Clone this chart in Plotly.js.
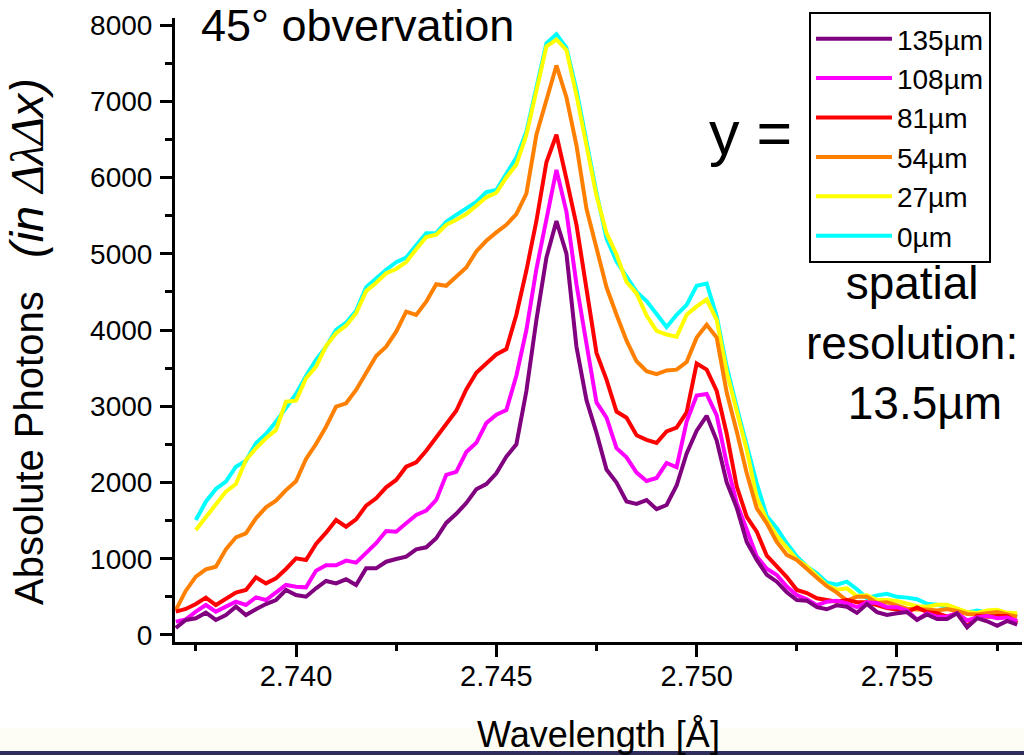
<!DOCTYPE html>
<html>
<head>
<meta charset="utf-8">
<script src="https://cdn.plot.ly/plotly-3.0.1.min.js"></script>
<style>
  html, body { margin: 0; padding: 0; background: #ffffff; }
  #chart { width: 1024px; height: 755px; }
</style>
</head>
<body>
<div id="chart"></div>
<script>
// Wavelength grid [Å]
const wavelength = [
  2.73700, 2.73725, 2.73750, 2.73775, 2.73800, 2.73825, 2.73850, 2.73875, 2.73900, 2.73925,
  2.73950, 2.73975, 2.74000, 2.74025, 2.74050, 2.74075, 2.74100, 2.74125, 2.74150, 2.74175,
  2.74200, 2.74225, 2.74250, 2.74275, 2.74300, 2.74325, 2.74350, 2.74375, 2.74400, 2.74425,
  2.74450, 2.74475, 2.74500, 2.74525, 2.74550, 2.74575, 2.74600, 2.74625, 2.74650, 2.74675,
  2.74700, 2.74725, 2.74750, 2.74775, 2.74800, 2.74825, 2.74850, 2.74875, 2.74900, 2.74925,
  2.74950, 2.74975, 2.75000, 2.75025, 2.75050, 2.75075, 2.75100, 2.75125, 2.75150, 2.75175,
  2.75200, 2.75225, 2.75250, 2.75275, 2.75300, 2.75325, 2.75350, 2.75375, 2.75400, 2.75425,
  2.75450, 2.75475, 2.75500, 2.75525, 2.75550, 2.75575, 2.75600, 2.75625, 2.75650, 2.75675,
  2.75700, 2.75725, 2.75750, 2.75775, 2.75800
];

// Absolute photons per series (y position)
const y135 = [
  92,197,219,293,197,262,371,262,337,406,
  459,590,524,502,612,708,677,730,655,874,
  874,961,996,1027,1124,1150,1268,1470,1590,1730,
  1910,1980,2120,2340,2500,3200,4130,4950,5430,5000,
  3780,3080,2650,2170,2000,1750,1720,1770,1650,1705,
  1960,2380,2680,2875,2550,2000,1670,1220,984,790,
  699,560,459,450,365,337,390,371,290,407,
  300,262,284,300,197,270,210,210,284,100,
  220,180,120,185,135
];
const y108 = [
  175,205,306,393,306,371,437,393,494,459,
  555,656,634,625,843,914,914,975,948,1084,
  1203,1364,1355,1465,1574,1630,1771,2100,2140,2400,
  2520,2780,2890,2950,3400,4000,4800,5450,6100,5550,
  4600,3820,3050,2850,2450,2330,2130,2020,2060,2256,
  2200,2800,3140,3160,2880,2250,1730,1380,1030,870,
  787,634,525,468,390,437,448,415,365,430,
  420,365,365,320,200,284,240,240,284,190,
  230,250,220,230,185
];
const y81 = [
  306,341,406,490,393,481,555,590,756,677,
  743,866,1006,984,1193,1342,1508,1420,1517,1696,
  1793,1937,2033,2207,2265,2417,2593,2750,2940,3220,
  3440,3560,3680,3750,4200,4780,5430,6200,6560,5980,
  5380,4540,3700,3350,2930,2850,2620,2560,2520,2670,
  2720,2920,3560,3480,3200,2640,1950,1550,1355,1040,
  896,760,590,550,481,459,437,459,430,430,
  390,355,335,300,360,300,284,240,284,109,
  250,240,250,250,160
];
const y54 = [
  328,581,765,861,896,1124,1281,1334,1530,1674,
  1762,1900,2015,2308,2505,2732,2994,3039,3213,3440,
  3659,3781,3978,4240,4197,4371,4600,4580,4700,4820,
  5030,5170,5280,5380,5520,5790,6560,7020,7470,7050,
  6420,5590,5060,4560,4200,3860,3590,3460,3420,3470,
  3480,3580,3900,4070,3900,3180,2670,2120,1660,1465,
  1220,1050,984,860,750,640,555,450,502,500,
  420,430,390,345,335,335,320,340,315,275,
  270,290,300,270,240
];
const y27 = [
  null,null,1377,1552,1727,1880,1980,2295,2449,2580,
  2689,3060,3073,3367,3519,3790,3957,4057,4219,4510,
  4620,4744,4800,4890,5060,5220,5250,5380,5445,5520,
  5630,5740,5800,6000,6170,6560,7140,7720,7810,7670,
  7080,6410,5760,5270,4990,4630,4480,4190,3990,3940,
  3912,4200,4310,4400,4133,3450,2920,2426,1800,1508,
  1300,1137,990,900,780,650,595,612,510,520,
  459,459,445,405,378,371,395,395,345,300,
  290,320,330,290,284
];
const y0 = [
  null,null,1508,1748,1915,2011,2207,2286,2514,2636,
  2797,2973,3161,3397,3607,3781,4000,4096,4253,4560,
  4680,4790,4890,4950,5110,5270,5270,5420,5510,5590,
  5680,5810,5836,6050,6260,6600,7170,7760,7880,7700,
  7150,6480,5800,5200,4900,4700,4500,4380,4220,4040,
  4200,4330,4580,4610,4180,3520,2990,2480,1989,1560,
  1400,1203,1030,900,810,690,660,699,600,481,
  520,540,500,490,470,410,398,365,335,295,
  320,300,268,280,250
];

const seriesNames = ['0µm', '27µm', '54µm', '81µm', '108µm', '135µm'];
const seriesValues = [y0, y27, y54, y81, y108, y135];
const seriesColors = ['#00ffff', '#ffff00', '#ff8000', '#ff0000', '#ff00ff', '#800080'];

const xTickVals = [2.740, 2.745, 2.750, 2.755];
const xTickText = ['2.740', '2.745', '2.750', '2.755'];
const yTickVals = [0, 1000, 2000, 3000, 4000, 5000, 6000, 7000, 8000];
const yTickText = ['0', '1000', '2000', '3000', '4000', '5000', '6000', '7000', '8000'];

const FONT = 'Arial, "Liberation Sans", sans-serif';
const NB = '\u00a0';

const traces = seriesNames.map((name, k) => ({
  type: 'scatter',
  mode: 'lines',
  name: name,
  x: wavelength,
  y: seriesValues[k],
  line: { color: seriesColors[k], width: 4 },
  connectgaps: false
}));

const yTitleText = 'Absolute Photons' + NB + NB + NB +
  '<span style="font-size:47px"><i>(in <span style="font-family:Liberation Serif">ΔλΔ</span>x)</i></span>';

const layout = {
  width: 1024,
  height: 755,
  paper_bgcolor: '#ffffff',
  plot_bgcolor: '#ffffff',
  margin: { l: 175, r: 2, t: 18, b: 113, pad: 0 },
  font: { family: FONT, color: '#000000' },
  showlegend: true,
  title: {
    text: '45° obvervation',
    font: { family: FONT, size: 45, color: '#000000' },
    xref: 'paper', x: 0.0307, xanchor: 'left',
    yref: 'container', y: 0.987, yanchor: 'top'
  },
  xaxis: {
    range: [2.73698, 2.75812],
    tickmode: 'array',
    tickvals: xTickVals,
    ticktext: xTickText,
    ticks: 'outside', ticklen: 12, tickwidth: 3, tickcolor: '#000000',
    showline: true, linewidth: 3, linecolor: '#000000',
    showgrid: false, zeroline: false, mirror: false,
    tickfont: { family: FONT, size: 29, color: '#000000' },
    ticklabelstandoff: -6,
    minor: { dtick: 0.0025, tick0: 2.740, ticks: 'outside', ticklen: 6, tickwidth: 3, tickcolor: '#000000', showgrid: false },
    title: { text: 'Wavelength [Å]', font: { family: FONT, size: 36, color: '#000000' }, standoff: 32 }
  },
  yaxis: {
    range: [-92, 8092],
    tickmode: 'array',
    tickvals: yTickVals,
    ticktext: yTickText,
    ticks: 'outside', ticklen: 12, tickwidth: 3, tickcolor: '#000000',
    showline: true, linewidth: 3, linecolor: '#000000',
    showgrid: false, zeroline: false, mirror: false,
    tickfont: { family: FONT, size: 28, color: '#000000' },
    ticklabelstandoff: 2,
    minor: { dtick: 500, tick0: 0, ticks: 'outside', ticklen: 7, tickwidth: 3, tickcolor: '#000000', showgrid: false }
  },
  legend: {
    x: 0.7485, y: 1.0096, xanchor: 'left', yanchor: 'top',
    xref: 'paper', yref: 'paper',
    bgcolor: '#ffffff', bordercolor: '#000000', borderwidth: 2,
    font: { family: FONT, size: 28, color: '#000000' },
    traceorder: 'reversed',
    itemwidth: 76
  },
  annotations: [
    {
      text: yTitleText, textangle: -90,
      xref: 'paper', yref: 'paper', x: -0.1748, y: 0.4824,
      xanchor: 'center', yanchor: 'middle', showarrow: false,
      font: { family: FONT, size: 40, color: '#000000' }
    },
    {
      text: 'y =', xref: 'paper', yref: 'paper', x: 0.6789, y: 0.816,
      xanchor: 'center', yanchor: 'middle', showarrow: false,
      font: { family: FONT, size: 61, color: '#000000' }
    },
    {
      text: 'spatial<br>resolution:<br>' + NB + NB + '13.5µm', xref: 'paper', yref: 'paper', x: 0.870, y: 0.479,
      xanchor: 'center', yanchor: 'middle', align: 'center', showarrow: false,
      font: { family: FONT, size: 46, color: '#000000' }
    }
  ],
  shapes: [
    { type: 'rect', xref: 'paper', yref: 'paper', x0: -0.3, x1: 1.01, y0: -0.1731, y1: -0.138,
      fillcolor: '#fefdf5', line: { width: 0 }, layer: 'below' },
    { type: 'rect', xref: 'paper', yref: 'paper', x0: -0.3, x1: 1.01, y0: -0.19, y1: -0.1747,
      fillcolor: '#2e2d5c', line: { width: 0 }, layer: 'below' }
  ]
};

Plotly.newPlot('chart', traces, layout, { staticPlot: true, displayModeBar: false });
</script>
</body>
</html>
